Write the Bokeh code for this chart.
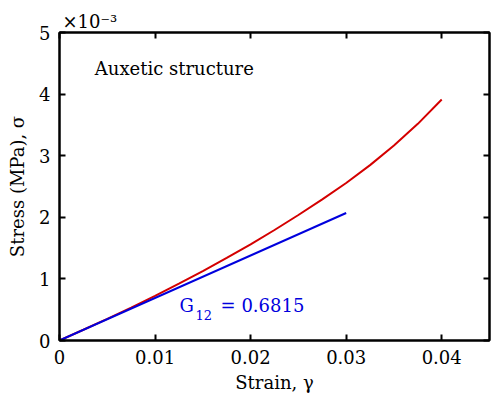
from bokeh.plotting import figure
from bokeh.models import LinearAxis, FixedTicker, Label, Range1d
from bokeh.embed import file_html
from bokeh.resources import INLINE

# data (stress in units of 1e-3 MPa)
strain_red = [0.0, 0.0025, 0.005, 0.0075, 0.01, 0.0125, 0.015, 0.0175, 0.02,
              0.0225, 0.025, 0.0275, 0.03, 0.0325, 0.035, 0.0375, 0.04]
stress_red = [0.0, 0.175, 0.352, 0.535, 0.725, 0.922, 1.127, 1.34, 1.562,
              1.794, 2.037, 2.291, 2.557, 2.847, 3.167, 3.517, 3.912]
strain_blue = [0.0, 0.03]
stress_blue = [0.0, 2.07]

x_ticks = [0, 0.01, 0.02, 0.03, 0.04]
x_tick_labels = ["0", "0.01", "0.02", "0.03", "0.04"]
y_ticks = [0, 1, 2, 3, 4, 5]
y_tick_labels = ["0", "1", "2", "3", "4", "5"]
scale_text = "×10⁻³"

FONT = "DejaVu Serif"
FS = "18px"
SMALL = "13px"
RED = "#d40000"
BLUE = "#0000dd"

p = figure(width=491, height=401, output_backend="svg", toolbar_location=None,
           x_range=Range1d(0, 0.045), y_range=Range1d(0, 5),
           x_axis_location=None, y_axis_location=None)
p.min_border_left = 59
p.min_border_right = 2
p.min_border_top = 32
p.min_border_bottom = 61
p.grid.visible = False
p.background_fill_color = "white"
p.border_fill_color = "white"
p.outline_line_color = "black"
p.outline_line_width = 2

p.title.text = scale_text
p.title.align = "left"
p.title.offset = 3
p.title.standoff = 2
p.title.text_font = FONT
p.title.text_font_size = FS
p.title.text_font_style = "normal"
p.title.text_color = "black"

def mk_axis(ticks, labels, show_labels, label_text=None):
    ax = LinearAxis(ticker=FixedTicker(ticks=ticks))
    ax.major_label_overrides = {t: l for t, l in zip(ticks, labels)}
    ax.major_tick_in = 6
    ax.major_tick_out = 0
    ax.minor_tick_line_color = None
    ax.axis_line_color = "black"
    ax.axis_line_width = 2
    ax.major_tick_line_width = 2
    ax.major_tick_line_color = "black"
    ax.major_label_text_font = FONT
    ax.major_label_text_font_size = FS
    ax.major_label_text_color = "black"
    if not show_labels:
        ax.major_label_text_color = None
        ax.major_label_text_font_size = "0px"
        ax.major_label_standoff = 0
    if label_text:
        ax.axis_label = label_text
        ax.axis_label_text_font = FONT
        ax.axis_label_text_font_size = FS
        ax.axis_label_text_font_style = "normal"
        ax.axis_label_text_color = "black"
    return ax

bx = mk_axis(x_ticks, x_tick_labels, True, "Strain, γ")
bx.major_label_standoff = 9
bx.axis_label_standoff = 5
ly = mk_axis(y_ticks, y_tick_labels, True, "Stress (MPa), σ")
ly.major_label_standoff = 9
ly.axis_label_standoff = 8
tx = mk_axis(x_ticks, x_tick_labels, False)
ry = mk_axis(y_ticks, y_tick_labels, False)
p.add_layout(bx, "below")
p.add_layout(ly, "left")
p.add_layout(tx, "above")
p.add_layout(ry, "right")

p.line(strain_red, stress_red, line_color=RED, line_width=2)
p.line(strain_blue, stress_blue, line_color=BLUE, line_width=2)

p.add_layout(Label(x=0.0037, y=4.25, text="Auxetic structure", text_font=FONT,
                   text_font_size=FS, text_color="black"))
p.add_layout(Label(x=0.01257, y=0.40, text="G", text_font=FONT,
                   text_font_size=FS, text_color=BLUE))
p.add_layout(Label(x=0.01424, y=0.34, text="12", text_font=FONT,
                   text_font_size=SMALL, text_color=BLUE))
p.add_layout(Label(x=0.01686, y=0.40, text="= 0.6815", text_font=FONT,
                   text_font_size=FS, text_color=BLUE))

open("out.html", "w").write(file_html(p, INLINE))
